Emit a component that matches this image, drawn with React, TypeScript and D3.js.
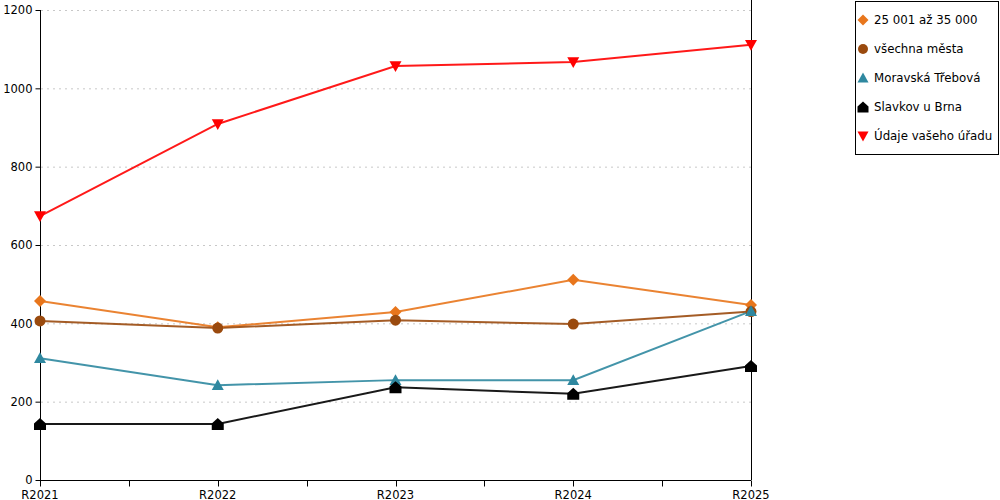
import * as d3 from "d3";
import { useEffect, useRef } from "react";

const categories = ["R2021", "R2022", "R2023", "R2024", "R2025"];
const yTicks = [0, 200, 400, 600, 800, 1000, 1200];

const seriesNames = [
  "25 001 až 35 000",
  "všechna města",
  "Moravská Třebová",
  "Slavkov u Brna",
  "Údaje vašeho úřadu",
];
const sizeGroup = [457, 390, 429, 511, 447];
const allCities = [406, 388, 408, 398, 430];
const moravskaTrebova = [311, 242, 255, 255, 431];
const slavkov = [143, 143, 237, 220, 291];
const yourOffice = [674, 909, 1057, 1067, 1111];

const colors = ["#e8761c", "#9a4a0e", "#2f88a0", "#000000", "#ff0000"];
const shapes = ["diamond", "circle", "triangleUp", "house", "triangleDown"];

const App = () => {
  const svgRef = useRef(null);

  useEffect(() => {
    const w = 1000;
    const h = 500;
    const svg = d3.select(svgRef.current).attr("width", w).attr("height", h);
    svg.selectAll("*").remove();

    const font = "DejaVu Sans, Verdana, sans-serif";
    const left = 40;
    const right = 751;
    const top = 10;
    const bottom = 480;

    const x = d3.scalePoint().domain(categories).range([left, right]);
    const y = d3.scaleLinear().domain([0, 1200]).range([bottom, top]);

    // grid
    svg
      .append("g")
      .selectAll("line")
      .data(yTicks.filter((t) => t > 0))
      .enter()
      .append("line")
      .attr("x1", left + 1)
      .attr("x2", right)
      .attr("y1", (d) => y(d) + 0.5)
      .attr("y2", (d) => y(d) + 0.5)
      .attr("stroke", "#c8c8c8")
      .attr("stroke-dasharray", "2,4");

    // y axis
    const yAxis = d3
      .axisLeft(y)
      .tickValues(yTicks)
      .tickSize(5)
      .tickPadding(3)
      .tickFormat(d3.format("d"));
    const gy = svg
      .append("g")
      .attr("transform", `translate(${left + 0.5},0)`)
      .call(yAxis);
    gy.select(".domain").attr("d", `M0,${top}V${bottom}`);

    // x axis with half-step ticks
    const gx = svg.append("g").attr("transform", `translate(0,${bottom + 0.5})`);
    gx.append("line")
      .attr("x1", left)
      .attr("x2", right)
      .attr("stroke", "#000");
    const step = x.step();
    const tickPos = d3.range(0, categories.length * 2 - 1).map((i) => left + (i * step) / 2);
    gx.selectAll("line.t")
      .data(tickPos)
      .enter()
      .append("line")
      .attr("class", "t")
      .attr("x1", (d) => Math.round(d) + 0.5)
      .attr("x2", (d) => Math.round(d) + 0.5)
      .attr("y1", 0)
      .attr("y2", 6)
      .attr("stroke", "#000");
    gx.selectAll("text")
      .data(categories)
      .enter()
      .append("text")
      .attr("x", (d) => x(d))
      .attr("y", 18)
      .attr("text-anchor", "middle")
      .attr("font-family", font)
      .attr("font-size", 11.5)
      .text((d) => d);

    // right border line
    svg
      .append("line")
      .attr("x1", right + 0.5)
      .attr("x2", right + 0.5)
      .attr("y1", 0)
      .attr("y2", bottom)
      .attr("stroke", "#000");

    gy.selectAll("text").attr("font-family", font).attr("font-size", 11.5).attr("fill", "#000");
    gy.selectAll("line").attr("stroke", "#000");

    const series = [sizeGroup, allCities, moravskaTrebova, slavkov, yourOffice];

    const markerPath = (shape: string, s: number) => {
      switch (shape) {
        case "diamond":
          return `M0,${-s}L${s},0L0,${s}L${-s},0Z`;
        case "circle":
          return d3.symbol(d3.symbolCircle, Math.PI * s * s)();
        case "triangleUp":
          return `M0,${-s}L${s},${s * 0.8}L${-s},${s * 0.8}Z`;
        case "triangleDown":
          return `M${-s},${-s * 0.8}L${s},${-s * 0.8}L0,${s}Z`;
        case "house":
          return `M0,${-s}L${s},${-s * 0.1}L${s},${s}L${-s},${s}L${-s},${-s * 0.1}Z`;
      }
      return "";
    };

    const line = d3
      .line<number>()
      .x((_, i) => x(categories[i]))
      .y((d) => y(d));

    series.forEach((vals, si) => {
      svg
        .append("path")
        .datum(vals)
        .attr("d", line)
        .attr("fill", "none")
        .attr("stroke", colors[si])
        .attr("stroke-width", 2)
        .attr("stroke-opacity", 0.9);
    });

    series.forEach((vals, si) => {
      svg
        .append("g")
        .selectAll("path")
        .data(vals)
        .enter()
        .append("path")
        .attr("transform", (d, i) => `translate(${x(categories[i])},${y(d)})`)
        .attr("d", markerPath(shapes[si], si === 1 ? 5.5 : 6))
        .attr("fill", colors[si]);
    });

    // legend
    const lg = svg.append("g");
    lg.append("rect")
      .attr("x", 855.5)
      .attr("y", 1.5)
      .attr("width", 143)
      .attr("height", 153)
      .attr("fill", "#fff")
      .attr("stroke", "#000");
    seriesNames.forEach((name, i) => {
      const cy = 20 + i * 29;
      lg.append("path")
        .attr("transform", `translate(863,${cy})`)
        .attr("d", markerPath(shapes[i], i === 1 ? 5 : 5.5))
        .attr("fill", colors[i]);
      lg.append("text")
        .attr("x", 874)
        .attr("y", cy + 4)
        .attr("font-family", font)
        .attr("font-size", 11.8)
        .text(name);
    });
  }, []);

  return (
    <div style={{ position: "absolute", left: 0, top: 0 }}>
      <svg ref={svgRef}></svg>
    </div>
  );
};

export default App;
